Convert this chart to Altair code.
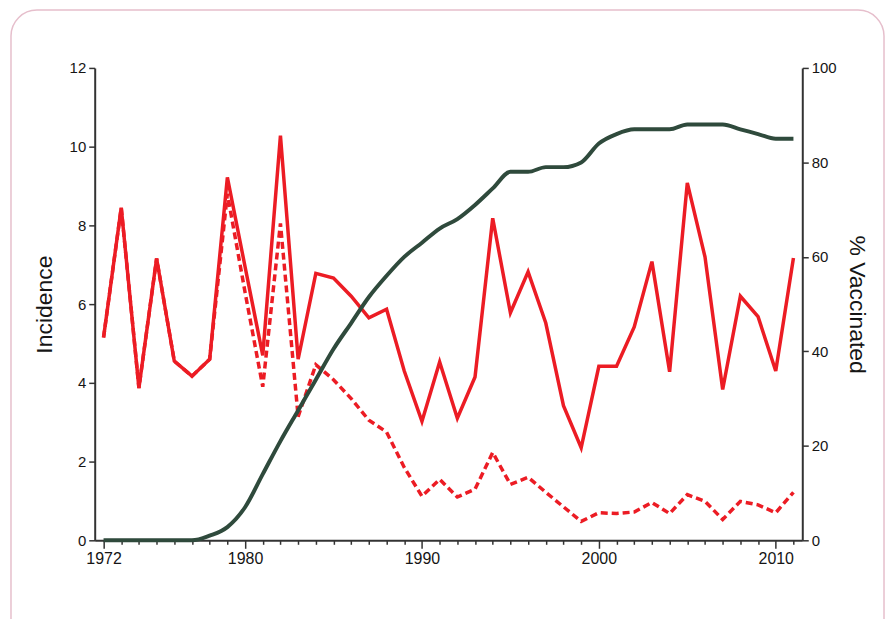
import altair as alt
import pandas as pd

years = [1972, 1973, 1974, 1975, 1976, 1977, 1978, 1979, 1980, 1981,
         1982, 1983, 1984, 1985, 1986, 1987, 1988, 1989, 1990, 1991,
         1992, 1993, 1994, 1995, 1996, 1997, 1998, 1999, 2000, 2001,
         2002, 2003, 2004, 2005, 2006, 2007, 2008, 2009, 2010, 2011]

total_incidence = [5.15, 8.45, 3.87, 7.16, 4.55, 4.17, 4.6, 9.22, 6.95, 4.7,
                   10.28, 4.6, 6.78, 6.66, 6.2, 5.65, 5.87, 4.3, 3.02, 4.53,
                   3.1, 4.15, 8.18, 5.78, 6.82, 5.52, 3.42, 2.35, 4.42, 4.42,
                   5.42, 7.08, 4.28, 9.08, 7.2, 3.83, 6.2, 5.68, 4.3, 7.17]

unvacc_incidence = [5.15, 8.45, 3.87, 7.16, 4.55, 4.17, 4.6, 8.8, 6.3, 3.9,
                    8.05, 3.14, 4.46, 4.08, 3.6, 3.05, 2.75, 1.85, 1.12, 1.55,
                    1.1, 1.3, 2.23, 1.42, 1.6, 1.22, 0.85, 0.48, 0.7, 0.68,
                    0.72, 0.96, 0.68, 1.16, 0.99, 0.53, 0.99, 0.9, 0.7, 1.22]

pct_vaccinated = [0, 0, 0, 0, 0, 0, 1, 2.8, 7, 14,
                  21, 27.5, 34, 40.5, 46, 51.5, 56, 60, 63, 66,
                  68, 71, 74.5, 78, 78, 79, 79, 80, 84, 86,
                  87, 87, 87, 88, 88, 88, 87, 86, 85, 85]

x_label_years = [1972, 1980, 1990, 2000, 2010]
left_ticks = [0, 2, 4, 6, 8, 10, 12]
right_ticks = [0, 20, 40, 60, 80, 100]

df = pd.DataFrame({
    "year": years,
    "total": total_incidence,
    "unvacc": unvacc_incidence,
    "pct": pct_vaccinated,
})

RED = "#ec1c24"
GREEN = "#2f4a3c"
AXIS = "#333333"
LABEL = "#151515"
FONT = "Liberation Sans"
W, H = 710, 474

major_test = f"indexof({x_label_years}, datum.value) >= 0"

x_enc = alt.X(
    "year:Q",
    scale=alt.Scale(domain=[1971.5, 2011.5], nice=False, zero=False),
    axis=alt.Axis(
        values=years,
        title=None,
        grid=False,
        labelExpr=f"{major_test} ? datum.value : ''",
        labelOverlap=False,
        labelFlush=False,
        tickSize={"condition": {"test": major_test, "value": 8}, "value": 4},
        tickWidth=1.5,
        tickColor=AXIS,
        domainColor=AXIS,
        domainWidth=2,
        labelFont=FONT,
        labelFontSize=16,
        labelColor=LABEL,
        labelPadding=2,
    ),
)

left_axis = alt.Axis(
    values=left_ticks,
    orient="left",
    title="Incidence",
    titleFont=FONT,
    titleFontSize=23,
    titleFontWeight="normal",
    titleColor=LABEL,
    titlePadding=13,
    grid=False,
    tickSize=6,
    tickWidth=1.5,
    tickColor=AXIS,
    domainColor=AXIS,
    domainWidth=2,
    labelFont=FONT,
    labelFontSize=15,
    labelColor=LABEL,
    labelPadding=3,
)

left_scale = alt.Scale(domain=[0, 12], nice=False, zero=True)

dashed = alt.Chart(df).mark_line(
    color=RED, strokeWidth=3.5, strokeDash=[7, 4], strokeCap="butt"
).encode(
    x=x_enc,
    y=alt.Y("unvacc:Q", scale=left_scale, axis=left_axis),
)

solid = alt.Chart(df).mark_line(
    color=RED, strokeWidth=3.5, strokeJoin="miter"
).encode(
    x=x_enc,
    y=alt.Y("total:Q", scale=left_scale, axis=left_axis),
)

red_layer = alt.layer(dashed, solid)

green = alt.Chart(df).mark_line(
    color=GREEN, strokeWidth=4, interpolate="monotone"
).encode(
    x=x_enc,
    y=alt.Y(
        "pct:Q",
        scale=alt.Scale(domain=[0, 100], nice=False, zero=True),
        axis=alt.Axis(
            values=right_ticks,
            orient="right",
            title="% Vaccinated",
            titleFont=FONT,
            titleFontSize=23,
            titleFontWeight="normal",
            titleColor=LABEL,
            titlePadding=8,
            grid=False,
            tickSize=6,
            tickWidth=1.5,
            tickColor=AXIS,
            domainColor=AXIS,
            domainWidth=2,
            labelFont=FONT,
            labelFontSize=15,
            labelColor=LABEL,
            labelPadding=3,
        ),
    ),
)

frame = alt.Chart(alt.Data(values=[{"k": 1}])).mark_rect(
    cornerRadius=26, fillOpacity=0, stroke="#e6bfcc", strokeWidth=1.5
).encode(
    x=alt.value(-84), x2=alt.value(792), y=alt.value(-58), y2=alt.value(600)
)

chart = alt.layer(frame, red_layer, green).resolve_scale(
    y="independent"
).properties(
    width=W,
    height=H,
    padding={"left": 2, "top": 0, "right": 0, "bottom": 0},
    background="white",
).configure_view(strokeWidth=0)

chart.save("out.html", embed_options={"renderer": "svg", "actions": False})
